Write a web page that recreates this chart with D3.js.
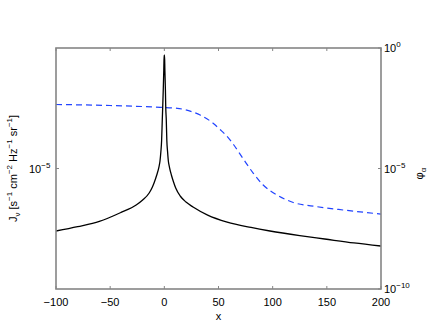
<!DOCTYPE html>
<html>
<head>
<meta charset="utf-8">
<script src="https://cdn.jsdelivr.net/npm/d3@7"></script>
<style>
  body { margin: 0; background: #fff; }
  text { font-family: "Liberation Sans", Arial, Helvetica, sans-serif; fill: #000; }
</style>
</head>
<body>
<div class="chart"></div>
<script>
// J_nu (left axis)
const jX = [-100, -80, -60, -40, -26, -20, -14, -11, -9.5, -7, -5, -4, -3.2, -2.5, -1.9, -1.5, -1, -0.5, -0.2,
  0.2, 0.5, 1, 1.3, 1.8, 2.3, 3, 3.7, 4.7, 6.5, 8.5, 10.5, 15, 20, 26.5, 40, 58, 80, 97.5, 125, 148, 175, 200]
const jVal = [4.34e-6, 4.60e-6, 4.93e-6, 5.56e-6, 6.14e-6, 6.56e-6, 7.21e-6, 7.81e-6, 8.24e-6, 9.17e-6, 1.02e-5, 1.105e-5,
  1.25e-5, 1.46e-5, 1.91e-5, 2.27e-5, 2.85e-5, 3.72e-5, 4.55e-5,
  4.55e-5, 3.72e-5, 2.85e-5, 2.27e-5, 1.91e-5, 1.46e-5, 1.25e-5, 1.105e-5, 1.02e-5, 9.17e-6, 8.35e-6, 7.70e-6,
  6.88e-6, 6.39e-6, 5.98e-6, 5.37e-6, 4.89e-6, 4.55e-6, 4.34e-6, 4.08e-6, 3.90e-6, 3.70e-6, 3.55e-6]

// phi_alpha (right axis)
const phiX = [-100, -50, -4, 12, 26.5, 33, 45, 51.4, 60.6, 64, 73, 82, 91, 104, 119, 141, 165, 200]
const phiVal = [4.53e-3, 4.11e-3, 3.46e-3, 3.15e-3, 2.19e-3, 1.66e-3, 7.59e-4, 4.17e-4, 1.55e-4, 9.66e-5,
  2.45e-5, 6.46e-6, 2.11e-6, 7.9e-7, 3.9e-7, 2.6e-7, 1.9e-7, 1.29e-7]

const xTicks = [-100, -50, 0, 50, 100, 150, 200]
const leftTicks = [1e-5]
const rightTicks = [1, 1e-5, 1e-10]

const margin = { top: 48, right: 48, bottom: 38, left: 56 },
  width = 429 - margin.left - margin.right,
  height = 327 - margin.top - margin.bottom

const svg = d3.select(".chart").append("svg")
  .attr("width", 429)
  .attr("height", 327)
  .append("g")
  .attr("transform", "translate(" + margin.left + "," + margin.top + ")")

const x = d3.scaleLinear().domain([-100, 200]).range([0, width])
const yL = d3.scaleLog().domain([2e-6, 5e-5]).range([height, 0])
const yR = d3.scaleLog().domain([1e-10, 1]).range([height, 0])

const axisColor = "#858585"

// curves
const jLine = d3.line()
  .x((d, i) => x(jX[i]))
  .y(d => yL(d))
  .curve(d3.curveMonotoneX)

const phiLine = d3.line()
  .x((d, i) => x(phiX[i]))
  .y(d => yR(d))
  .curve(d3.curveMonotoneX)

svg.append("path")
  .datum(phiVal)
  .attr("d", phiLine)
  .attr("fill", "none")
  .attr("stroke", "#2244ff")
  .attr("stroke-width", 1.2)
  .attr("stroke-dasharray", "6,4")

svg.append("path")
  .datum(jVal)
  .attr("d", jLine)
  .attr("fill", "none")
  .attr("stroke", "#000")
  .attr("stroke-width", 1.3)

// box
svg.append("rect")
  .attr("x", 0).attr("y", 0)
  .attr("width", width).attr("height", height)
  .attr("fill", "none")
  .attr("stroke", axisColor)
  .attr("stroke-width", 1.6)

// x ticks (inward, bottom and top)
const tl = 3
xTicks.forEach(t => {
  svg.append("line").attr("x1", x(t)).attr("x2", x(t)).attr("y1", height).attr("y2", height - tl)
    .attr("stroke", axisColor).attr("stroke-width", 1)
  svg.append("line").attr("x1", x(t)).attr("x2", x(t)).attr("y1", 0).attr("y2", tl)
    .attr("stroke", axisColor).attr("stroke-width", 1)
  svg.append("text")
    .attr("x", x(t))
    .attr("y", height + 17)
    .attr("text-anchor", "middle")
    .style("font-size", "11px")
    .text(t < 0 ? "\u2212" + Math.abs(t) : t)
})

svg.append("text")
  .attr("x", width / 2)
  .attr("y", height + 31)
  .attr("text-anchor", "middle")
  .style("font-size", "11px")
  .text("x")

const powLabel = (sel, p) => {
  sel.append("tspan").text("10")
  sel.append("tspan")
    .attr("dy", -5)
    .style("font-size", "8px")
    .text(p === 0 ? "0" : "\u2212" + Math.abs(p))
}

// left ticks
leftTicks.forEach(t => {
  svg.append("line").attr("x1", 0).attr("x2", tl).attr("y1", yL(t)).attr("y2", yL(t))
    .attr("stroke", axisColor).attr("stroke-width", 1)
  const txt = svg.append("text")
    .attr("x", -27)
    .attr("y", yL(t) + 4)
    .style("font-size", "11px")
  powLabel(txt, Math.round(Math.log10(t)))
})

// right ticks
rightTicks.forEach(t => {
  svg.append("line").attr("x1", width).attr("x2", width - tl).attr("y1", yR(t)).attr("y2", yR(t))
    .attr("stroke", axisColor).attr("stroke-width", 1)
  const txt = svg.append("text")
    .attr("x", width + 3)
    .attr("y", yR(t) + 4)
    .style("font-size", "11px")
  powLabel(txt, Math.round(Math.log10(t)))
})

// left y label
const ylab = svg.append("text")
  .attr("transform", "translate(" + (-39) + "," + (height / 2) + ") rotate(-90)")
  .attr("text-anchor", "middle")
  .style("font-size", "11px")
ylab.append("tspan").text("J")
ylab.append("tspan").attr("dy", 3).style("font-size", "8px").text("\u03bd")
ylab.append("tspan").attr("dy", -3).text(" [s")
ylab.append("tspan").attr("dy", -5).style("font-size", "8px").text("\u22121")
ylab.append("tspan").attr("dy", 5).text(" cm")
ylab.append("tspan").attr("dy", -5).style("font-size", "8px").text("\u22122")
ylab.append("tspan").attr("dy", 5).text(" Hz")
ylab.append("tspan").attr("dy", -5).style("font-size", "8px").text("\u22121")
ylab.append("tspan").attr("dy", 5).text(" sr")
ylab.append("tspan").attr("dy", -5).style("font-size", "8px").text("\u22121")
ylab.append("tspan").attr("dy", 5).text("]")

// right y label
const rlab = svg.append("text")
  .attr("transform", "translate(" + (width + 42) + "," + (height / 2 + 5) + ") rotate(-90)")
  .attr("text-anchor", "middle")
  .style("font-size", "11px")
rlab.append("tspan").text("\u03c6")
rlab.append("tspan").attr("dy", 3).style("font-size", "8px").text("\u03b1")
</script>
</body>
</html>
